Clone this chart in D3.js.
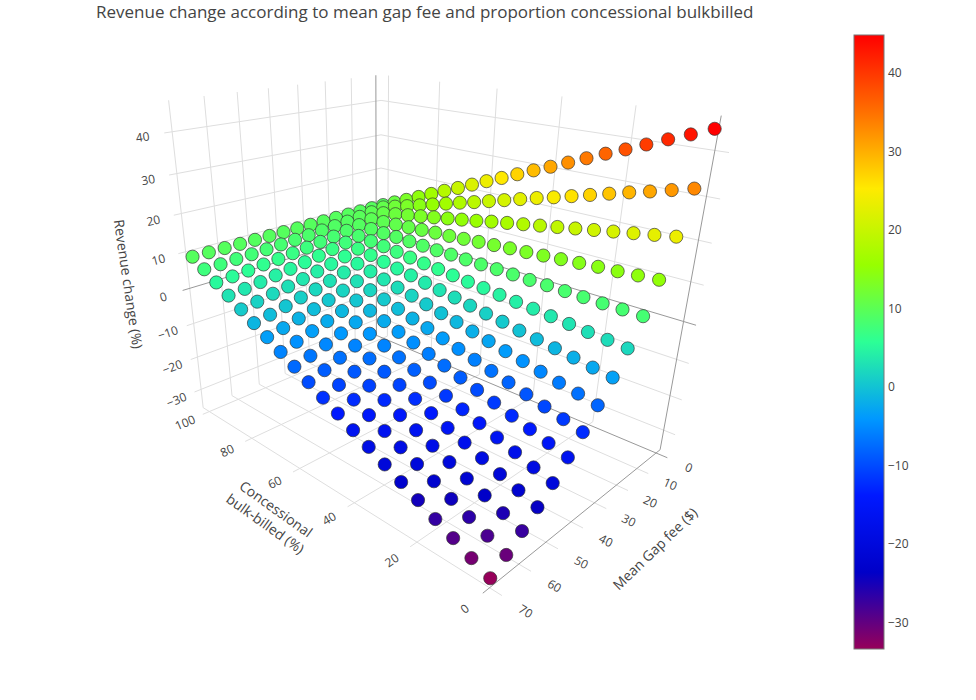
<!DOCTYPE html>
<html>
<head>
<meta charset="utf-8">
<script src="https://cdn.jsdelivr.net/npm/d3@7"></script>
<style>
  body { margin: 0; background: #fff; }
  text { font-family: "Open Sans", verdana, arial, sans-serif; fill: #444; }
</style>
</head>
<body>
<div id="viz"></div>
<script>
// mean gap fee ($), one grid row per value
var gapFees = [0, 5, 10, 15, 20, 25, 30, 35, 40, 45, 50, 55, 60, 65, 70];
// concessional patients bulk-billed (%), one grid column per value
var concessional = [0, 5, 10, 15, 20, 25, 30, 35, 40, 45, 50, 55, 60, 65, 70, 75, 80, 85, 90, 95, 100];
// revenue change (%), rows follow gapFees, columns follow concessional
var revenue = [
  [44.8, 43.0, 41.3, 39.5, 37.7, 36.0, 34.2, 32.4, 30.6, 28.9, 27.1, 25.3, 23.6, 21.8, 20.0, 18.3, 16.5, 14.7, 12.9, 11.2, 9.4],
  [33.0, 31.8, 30.6, 29.5, 28.3, 27.1, 25.9, 24.7, 23.6, 22.4, 21.2, 20.0, 18.8, 17.7, 16.5, 15.3, 14.1, 12.9, 11.8, 10.6, 9.4],
  [23.5, 22.8, 22.1, 21.4, 20.7, 20.0, 19.3, 18.6, 17.9, 17.2, 16.5, 15.7, 15.0, 14.3, 13.6, 12.9, 12.2, 11.5, 10.8, 10.1, 9.4],
  [15.0, 14.7, 14.4, 14.2, 13.9, 13.6, 13.3, 13.0, 12.8, 12.5, 12.2, 11.9, 11.6, 11.4, 11.1, 10.8, 10.5, 10.2, 10.0, 9.7, 9.4],
  [8.0, 8.1, 8.1, 8.2, 8.3, 8.4, 8.4, 8.5, 8.6, 8.6, 8.7, 8.8, 8.8, 8.9, 9.0, 9.1, 9.1, 9.2, 9.3, 9.3, 9.4],
  [2.0, 2.4, 2.7, 3.1, 3.5, 3.9, 4.2, 4.6, 5.0, 5.3, 5.7, 6.1, 6.4, 6.8, 7.2, 7.6, 7.9, 8.3, 8.7, 9.0, 9.4],
  [-3.2, -2.6, -1.9, -1.3, -0.7, -0.1, 0.6, 1.2, 1.8, 2.5, 3.1, 3.7, 4.4, 5.0, 5.6, 6.3, 6.9, 7.5, 8.1, 8.8, 9.4],
  [-8.0, -7.1, -6.3, -5.4, -4.5, -3.7, -2.8, -1.9, -1.0, -0.2, 0.7, 1.6, 2.4, 3.3, 4.2, 5.1, 5.9, 6.8, 7.7, 8.5, 9.4],
  [-12.5, -11.4, -10.3, -9.2, -8.1, -7.0, -5.9, -4.8, -3.7, -2.6, -1.6, -0.5, 0.6, 1.7, 2.8, 3.9, 5.0, 6.1, 7.2, 8.3, 9.4],
  [-16.5, -15.2, -13.9, -12.6, -11.3, -10.0, -8.7, -7.4, -6.1, -4.8, -3.6, -2.3, -1.0, 0.3, 1.6, 2.9, 4.2, 5.5, 6.8, 8.1, 9.4],
  [-20.5, -19.0, -17.5, -16.0, -14.5, -13.0, -11.5, -10.0, -8.5, -7.0, -5.6, -4.1, -2.6, -1.1, 0.4, 1.9, 3.4, 4.9, 6.4, 7.9, 9.4],
  [-24.0, -22.3, -20.7, -19.0, -17.3, -15.7, -14.0, -12.3, -10.6, -9.0, -7.3, -5.6, -4.0, -2.3, -0.6, 1.1, 2.7, 4.4, 6.1, 7.7, 9.4],
  [-27.3, -25.5, -23.6, -21.8, -20.0, -18.1, -16.3, -14.5, -12.6, -10.8, -9.0, -7.1, -5.3, -3.4, -1.6, 0.2, 2.1, 3.9, 5.7, 7.6, 9.4],
  [-30.5, -28.5, -26.5, -24.5, -22.5, -20.5, -18.5, -16.5, -14.5, -12.5, -10.6, -8.6, -6.6, -4.6, -2.6, -0.6, 1.4, 3.4, 5.4, 7.4, 9.4],
  [-33.4, -31.3, -29.1, -27.0, -24.8, -22.7, -20.6, -18.4, -16.3, -14.1, -12.0, -9.9, -7.7, -5.6, -3.4, -1.3, 0.8, 3.0, 5.1, 7.3, 9.4]
];

var gapTicks = [0, 10, 20, 30, 40, 50, 60, 70];
var concTicks = [0, 20, 40, 60, 80, 100];
var revTicks = [-30, -20, -10, 0, 10, 20, 30, 40];
var colorbarTicks = [-30, -20, -10, 0, 10, 20, 30, 40];

// "Rainbow" colorscale
var rainbowPos = [0, 0.125, 0.25, 0.375, 0.5, 0.625, 0.75, 0.875, 1];
var rainbowColors = ["rgb(150,0,90)", "rgb(0,0,200)", "rgb(0,25,255)", "rgb(0,152,255)",
  "rgb(44,255,150)", "rgb(151,255,0)", "rgb(255,234,0)", "rgb(255,111,0)", "rgb(255,0,0)"];

var title = "Revenue change according to mean gap fee and proportion concessional bulkbilled";

var W = 976, H = 700;

// scene box half sizes (conc, gap, revenue) and camera
var half = [0.2717, 0.19, 0.217];
var cam = { az: 135, el: 25.76, eye: [-0.6197, 0.7037, 0.3617], focal: 787, cx: 380, cy: 349 };

var svg = d3.select("#viz").append("svg")
  .attr("width", W).attr("height", H)
  .style("background", "#fff");

function padded(vals) {
  var e = d3.extent(vals), p = (e[1] - e[0]) / 32;
  return [e[0] - p, e[1] + p];
}

var allRev = revenue.flat();
var revExt = d3.extent(allRev);

var xS = d3.scaleLinear().domain(padded(concessional)).range([-half[0], half[0]]);
var yS = d3.scaleLinear().domain(padded(gapFees)).range([-half[1], half[1]]);
var zS = d3.scaleLinear().domain(padded(allRev)).range([-half[2], half[2]]);

var a = cam.az * Math.PI / 180, e = cam.el * Math.PI / 180;
var right = [-Math.sin(a), Math.cos(a), 0];
var up = [-Math.cos(a) * Math.sin(e), -Math.sin(a) * Math.sin(e), Math.cos(e)];
var fwd = [-Math.cos(e) * Math.cos(a), -Math.cos(e) * Math.sin(a), -Math.sin(e)];

function dot(u, v) { return u[0] * v[0] + u[1] * v[1] + u[2] * v[2]; }

function proj(p) {
  var q = [p[0] - cam.eye[0], p[1] - cam.eye[1], p[2] - cam.eye[2]];
  var d = dot(q, fwd);
  return [cam.cx + cam.focal * dot(q, right) / d, cam.cy - cam.focal * dot(q, up) / d, d];
}

var color = d3.scaleLinear()
  .domain(rainbowPos.map(function(t) { return revExt[0] + t * (revExt[1] - revExt[0]); }))
  .range(rainbowColors)
  .interpolate(d3.interpolateRgb);

// ---- grid on the three back walls
var X0 = -half[0], X1 = half[0], Y0 = -half[1], Y1 = half[1], Z0 = -half[2], Z1 = half[2];
var lines = [];
gapTicks.forEach(function(g) {
  var y = yS(g);
  lines.push({ a: [X0, y, Z0], b: [X1, y, Z0], zero: g === 0 });
  lines.push({ a: [X1, y, Z0], b: [X1, y, Z1], zero: g === 0 });
});
concTicks.forEach(function(c) {
  var x = xS(c);
  lines.push({ a: [x, Y0, Z0], b: [x, Y1, Z0], zero: c === 0 });
  lines.push({ a: [x, Y0, Z0], b: [x, Y0, Z1], zero: c === 0 });
});
revTicks.forEach(function(r) {
  var z = zS(r);
  lines.push({ a: [X0, Y0, z], b: [X1, Y0, z], zero: r === 0 });
  lines.push({ a: [X1, Y0, z], b: [X1, Y1, z], zero: r === 0 });
});
lines.sort(function(l1, l2) { return l1.zero - l2.zero; });

svg.append("g").selectAll("line").data(lines).join("line")
  .attr("x1", function(d) { return proj(d.a)[0]; })
  .attr("y1", function(d) { return proj(d.a)[1]; })
  .attr("x2", function(d) { return proj(d.b)[0]; })
  .attr("y2", function(d) { return proj(d.b)[1]; })
  .attr("stroke", function(d) { return d.zero ? "#999" : "#dedede"; })
  .attr("stroke-width", 1);

// ---- markers, far ones first
var pts = [];
gapFees.forEach(function(g, i) {
  concessional.forEach(function(c, j) {
    var p = proj([xS(c), yS(g), zS(revenue[i][j])]);
    pts.push({ x: p[0], y: p[1], d: p[2], v: revenue[i][j] });
  });
});
pts.sort(function(p1, p2) { return p2.d - p1.d; });

svg.append("g").selectAll("circle").data(pts).join("circle")
  .attr("cx", function(d) { return d.x; })
  .attr("cy", function(d) { return d.y; })
  .attr("r", 6.6)
  .attr("fill", function(d) { return color(d.v); })
  .attr("stroke", "#333")
  .attr("stroke-opacity", 0.85)
  .attr("stroke-width", 0.8);

// ---- labels
function readable(ang) {
  while (ang > 90) ang -= 180;
  while (ang < -90) ang += 180;
  return ang;
}
function angleOf(p, q) {
  var s = proj(p), t = proj(q);
  return Math.atan2(t[1] - s[1], t[0] - s[0]) * 180 / Math.PI;
}

var labels = [];
var off = 0.03, offT = 0.075;
gapTicks.forEach(function(g) {
  var base = [X0, yS(g), Z0], pos = [X0 - off, yS(g), Z0];
  labels.push({ p: pos, ang: readable(angleOf(base, pos)), t: d3.format("")(g), size: 12 });
});
concTicks.forEach(function(c) {
  var base = [xS(c), Y1, Z0], pos = [xS(c), Y1 + off, Z0];
  labels.push({ p: pos, ang: readable(angleOf(base, pos)), t: d3.format("")(c), size: 12 });
});
revTicks.forEach(function(r) {
  var base = [X1, Y1, zS(r)], pos = [X1, Y1 + off, zS(r)];
  labels.push({ p: pos, ang: readable(angleOf(base, pos)), t: d3.format("")(r), size: 12 });
});

labels.push({ p: [X0 - offT, 0, Z0], ang: readable(angleOf([X0 - offT, -0.05, Z0], [X0 - offT, 0.05, Z0])),
  t: ["Mean Gap fee ($)"], size: 14 });
labels.push({ p: [0, Y1 + offT, Z0], ang: readable(angleOf([-0.05, Y1 + offT, Z0], [0.05, Y1 + offT, Z0])),
  t: ["Concessional", "bulk-billed (%)"], size: 14 });
labels.push({ p: [X1, Y1 + offT, 0], ang: readable(angleOf([X1, Y1 + offT, -0.05], [X1, Y1 + offT, 0.05])),
  t: ["Revenue change (%)"], size: 14 });

var lab = svg.append("g").selectAll("text").data(labels).join("text")
  .attr("transform", function(d) {
    var s = proj(d.p);
    return "translate(" + s[0] + "," + s[1] + ") rotate(" + d.ang + ")";
  })
  .attr("text-anchor", "middle")
  .attr("dominant-baseline", "central")
  .style("font-size", function(d) { return d.size + "px"; });

lab.each(function(d) {
  var el = d3.select(this);
  var rows = Array.isArray(d.t) ? d.t : [d.t];
  rows.forEach(function(r, k) {
    el.append("tspan").attr("x", 0)
      .attr("dy", k === 0 ? (-(rows.length - 1) * 0.65) + "em" : "1.3em")
      .text(r);
  });
});

// ---- colorbar
var cb = { x: 854, y: 35, w: 30, h: 614 };
var cbScale = d3.scaleLinear().domain(revExt).range([cb.y + cb.h, cb.y]);

var grad = svg.append("defs").append("linearGradient")
  .attr("id", "cbgrad").attr("x1", 0).attr("y1", 1).attr("x2", 0).attr("y2", 0);
grad.selectAll("stop").data(rainbowPos).join("stop")
  .attr("offset", function(d) { return d; })
  .attr("stop-color", function(d, i) { return rainbowColors[i]; });

svg.append("rect")
  .attr("x", cb.x).attr("y", cb.y).attr("width", cb.w).attr("height", cb.h)
  .attr("fill", "url(#cbgrad)")
  .attr("stroke", "#777").attr("stroke-width", 1);

svg.append("g").selectAll("text").data(colorbarTicks).join("text")
  .attr("x", cb.x + cb.w + 4)
  .attr("y", function(d) { return cbScale(d); })
  .attr("dominant-baseline", "central")
  .style("font-size", "12px")
  .text(d3.format(""));

// ---- title
svg.append("text")
  .attr("x", 96).attr("y", 18)
  .style("font-size", "17px")
  .text(title);
</script>
</body>
</html>
